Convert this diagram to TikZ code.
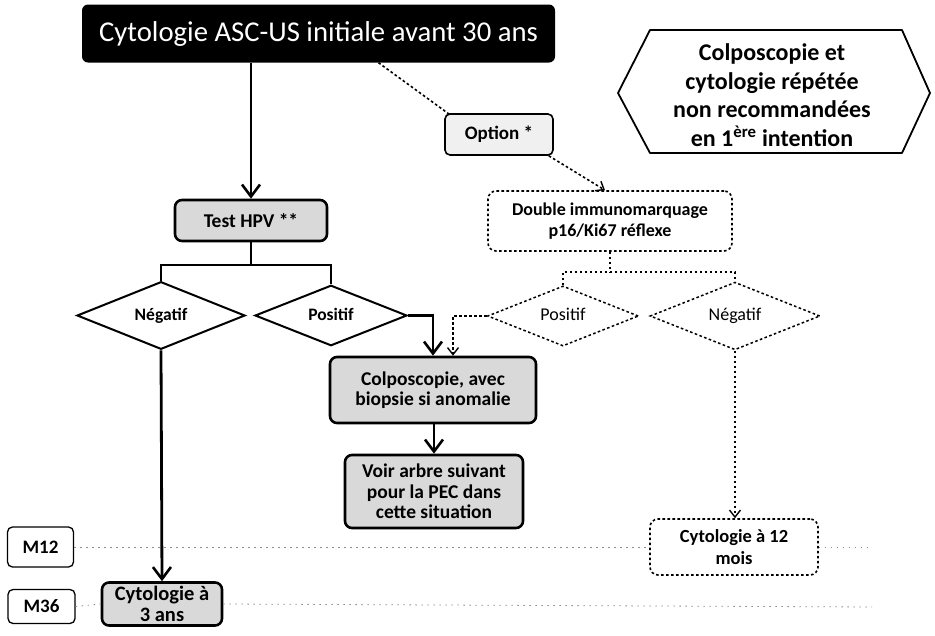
\documentclass[tikz,border=0pt]{standalone}
\usepackage{fontspec}
\setmainfont{Carlito}
\usetikzlibrary{arrows.meta,shapes.geometric,calc}

\begin{document}
\begin{tikzpicture}[x=1pt,y=-1pt,
  fs/.style={font=\fontsize{#1}{\dimexpr#1pt*6/5\relax}\selectfont},
  bfs/.style={font=\bfseries\fontsize{#1}{\dimexpr#1pt*6/5\relax}\selectfont},
  tightbfs/.style={font=\bfseries\fontsize{#1}{\dimexpr#1pt*21/20\relax}\selectfont},
  greybox/.style={draw, line width=2.6pt, rounded corners=7pt, fill=black!15,
    align=center, inner sep=0pt, tightbfs=19.5},
  dashbox/.style={draw, line width=1.6pt, dash pattern=on 2.6pt off 2.4pt,
    rounded corners=8pt, fill=white, align=center, inner sep=0pt, bfs=18},
  markbox/.style={draw, line width=1.3pt, rounded corners=5pt, fill=white,
    inner sep=0pt, bfs=19},
  soliddiam/.style={draw, diamond, line width=2pt, fill=white, inner sep=0pt, bfs=17.5,
    text height=12pt, text depth=3pt},
  dashdiam/.style={draw, diamond, line width=1.5pt, dash pattern=on 2.6pt off 2.4pt,
    fill=white, inner sep=0pt, fs=18, text height=12pt, text depth=3pt},
  flow/.style={line width=2.8pt},
  flowarrow/.style={flow, -{Straight Barb[length=12pt,width=18pt,line width=2.6pt]}},
  dotflow/.style={line width=1.6pt, dash pattern=on 2.6pt off 2.4pt},
  dotarrow/.style={dotflow, -{Straight Barb[length=7pt,width=11pt,line width=1.4pt]}},
  gridline/.style={draw=black!45, line width=0.8pt, dash pattern=on 1.5pt off 4.5pt},
]
\useasboundingbox (0,0) rectangle (935,635);

% time marks and their guide lines
\node[markbox, minimum width=66pt, minimum height=40pt] (m12) at (40.5,547) {M12};
\node[markbox, minimum width=67pt, minimum height=34pt] (m36) at (41.5,606.5) {M36};
\coordinate (m12end) at (872,547);
\coordinate (m36end) at (872,607);

% title
\node[fill=black, rounded corners=6pt, minimum width=473pt, minimum height=58pt,
  inner sep=0pt, text=white, fs=28.7] (title) at (318.5,33.5)
  {Cytologie ASC-US initiale avant 30 ans};

% hexagonal note
\draw[line width=1.8pt, line join=round, fill=white]
  (618,93) -- (650,30) -- (902,30) -- (930,93) -- (902,153) -- (650,153) -- cycle;
\node[align=center, inner sep=0pt, font=\bfseries\fontsize{24}{28.5}\selectfont] (note) at (772,95)
  {Colposcopie et\\cytologie répétée\\non recommandées\\en 1\textsuperscript{ère} intention};

% left branch
\node[greybox, minimum width=152pt, minimum height=41pt] (hpv) at (251,220.5) {Test HPV **};
\node[soliddiam, minimum width=168pt, minimum height=51pt] (neg) at (161,315.5) {Négatif};
\node[soliddiam, minimum width=152pt, minimum height=51pt] (pos) at (331,315.5) {Positif};
\node[greybox, minimum width=206pt, minimum height=66pt] (colpo) at (433,390)
  {Colposcopie, avec\\biopsie si anomalie};
\node[greybox, minimum width=178pt, minimum height=73pt] (voir) at (434,491.5)
  {Voir arbre suivant\\pour la PEC dans\\cette situation};
\node[greybox, minimum width=120pt, minimum height=43pt, tightbfs=20.5] (cyto3) at (162,604)
  {Cytologie à\\3 ans};

% optional branch
\node[draw, line width=1.6pt, rounded corners=5pt, fill=black!6, minimum width=108pt,
  minimum height=41pt, inner sep=0pt, bfs=19] (option) at (499,134.5) {Option *};
\node[dashbox, minimum width=244pt, minimum height=60pt] (dbl) at (610,221)
  {Double immunomarquage\\p16/Ki67 réflexe};
\node[dashdiam, minimum width=151pt, minimum height=48pt] (dpos) at (563,316) {Positif};
\node[dashdiam, minimum width=170pt, minimum height=48pt] (dneg) at (735,316) {Négatif};
\node[dashbox, minimum width=168pt, minimum height=56pt, bfs=18.5] (cyto12) at (734,547)
  {Cytologie à 12\\mois};

% guide lines
\draw[gridline] (m12.east) -- (cyto12.west);
\draw[gridline] (cyto12.east) -- (m12end);
\draw[gridline] (m36.east) -- (cyto3.west);
\draw[gridline] (cyto3.east) -- (m36end);

% solid flow
\coordinate (split) at (251,265);
\draw[flowarrow] (title.south -| hpv) -- (hpv.north);
\draw[flow] (hpv.south) -- (split);
\draw[flow, line join=miter] (neg.north) -- (neg.north |- split) -- (pos.north |- split) -- (pos.north);
\draw[flowarrow] (pos.east) -| (colpo.north);
\draw[flowarrow] (colpo.south -| voir.north) -- (voir.north);
\draw[flowarrow] (neg.south) -- (cyto3.north);

% dotted flow
\coordinate (dsplit) at (610,272);
\draw[dotflow] ([xshift=60pt]title.south) -- ([xshift=5pt,yshift=-1pt]option.north west);
\draw[dotarrow] ([xshift=-5pt]option.south east) -- ([xshift=-5pt]dbl.north);
\draw[dotflow] (dbl.south) -- (dsplit);
\draw[dotflow] (dpos.north) -- (dpos.north |- dsplit) -- (dneg.north |- dsplit) -- (dneg.north);
\draw[dotarrow] (dpos.west) -| ([xshift=20pt]colpo.north);
\draw[dotarrow] (dneg.south) -- (cyto12.north -| dneg.south);

\end{tikzpicture}
\end{document}
